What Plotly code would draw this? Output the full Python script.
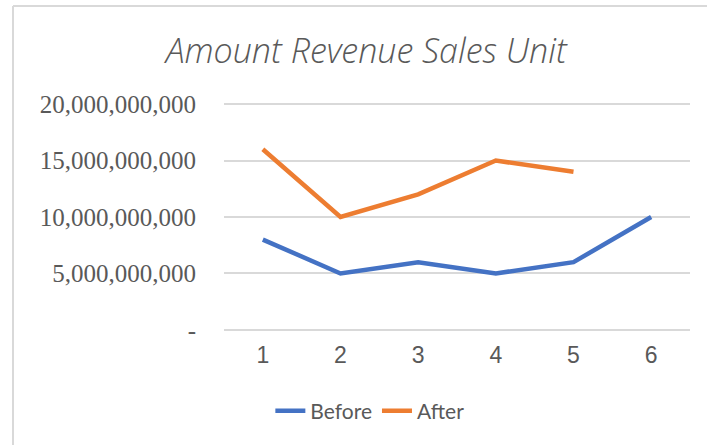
import plotly.graph_objects as go

# ──────────  DATA  ──────────
units   = [1, 2, 3, 4, 5, 6]
before  = [8e9, 5e9, 6e9, 5e9, 6e9, 10e9]
after   = [16e9, 10e9, 12e9, 15e9, 14e9, None]   # no value for unit 6

y_ticks  = [0, 5e9, 10e9, 15e9, 20e9]
y_labels = ["-", "5,000,000,000", "10,000,000,000", "15,000,000,000", "20,000,000,000"]

# ──────────  PLOT  ──────────
fig = go.Figure()

fig.add_trace(go.Scatter(
    x=units, y=before, mode="lines", name="Before",
    line=dict(color="#4472C4", width=4.5)
))
fig.add_trace(go.Scatter(
    x=units, y=after, mode="lines", name="After",
    line=dict(color="#ED7D31", width=4.5)
))

grey = "#595959"

fig.update_xaxes(
    range=[0.5, 6.5], tickvals=units, showgrid=False, zeroline=False,
    showline=False, ticks="", ticklabelstandoff=8,
    tickfont=dict(family="Liberation Sans, Arial", size=23, color=grey)
)
# range padded a bit so plotly still draws the 0 and 20bn gridlines
fig.update_yaxes(
    range=[-0.1e9, 20.1e9], tickvals=y_ticks, ticktext=y_labels,
    showgrid=True, gridcolor="#d9d9d9", gridwidth=1.5, zeroline=False,
    ticks="", ticklabelstandoff=27,
    tickfont=dict(family="Liberation Serif, serif", size=25, color=grey)
)

# chart-area frame (only top and left edges are visible in the original)
# paper coords: plot area is x 224..690 px, y 103..331 px
fig.add_shape(type="line", xref="paper", yref="paper",
              x0=-0.4528, x1=-0.4528, y0=-0.52, y1=1.4254,
              line=dict(color="#d9d9d9", width=2))
fig.add_shape(type="line", xref="paper", yref="paper",
              x0=-0.4528, x1=1.04, y0=1.4254, y1=1.4254,
              line=dict(color="#d9d9d9", width=2))

fig.update_layout(
    width=707, height=445,
    margin=dict(l=224, r=17, t=103, b=114),
    paper_bgcolor="white", plot_bgcolor="white",
    title=dict(
        text="Amount Revenue Sales Unit", x=0.518, xref="container",
        xanchor="center", y=0.885, yanchor="middle",
        font=dict(family="Open Sans", size=34, color=grey, style="italic", weight=300)
    ),
    legend=dict(
        orientation="h", x=0.313, xanchor="center", y=-0.351, yanchor="middle",
        font=dict(family="Lato, Open Sans", size=21, color=grey),
        itemwidth=30, tracegroupgap=0
    ),
    showlegend=True
)

fig.write_html("out.html", config={"displayModeBar": False},
               post_script="document.body.style.margin='0';")
